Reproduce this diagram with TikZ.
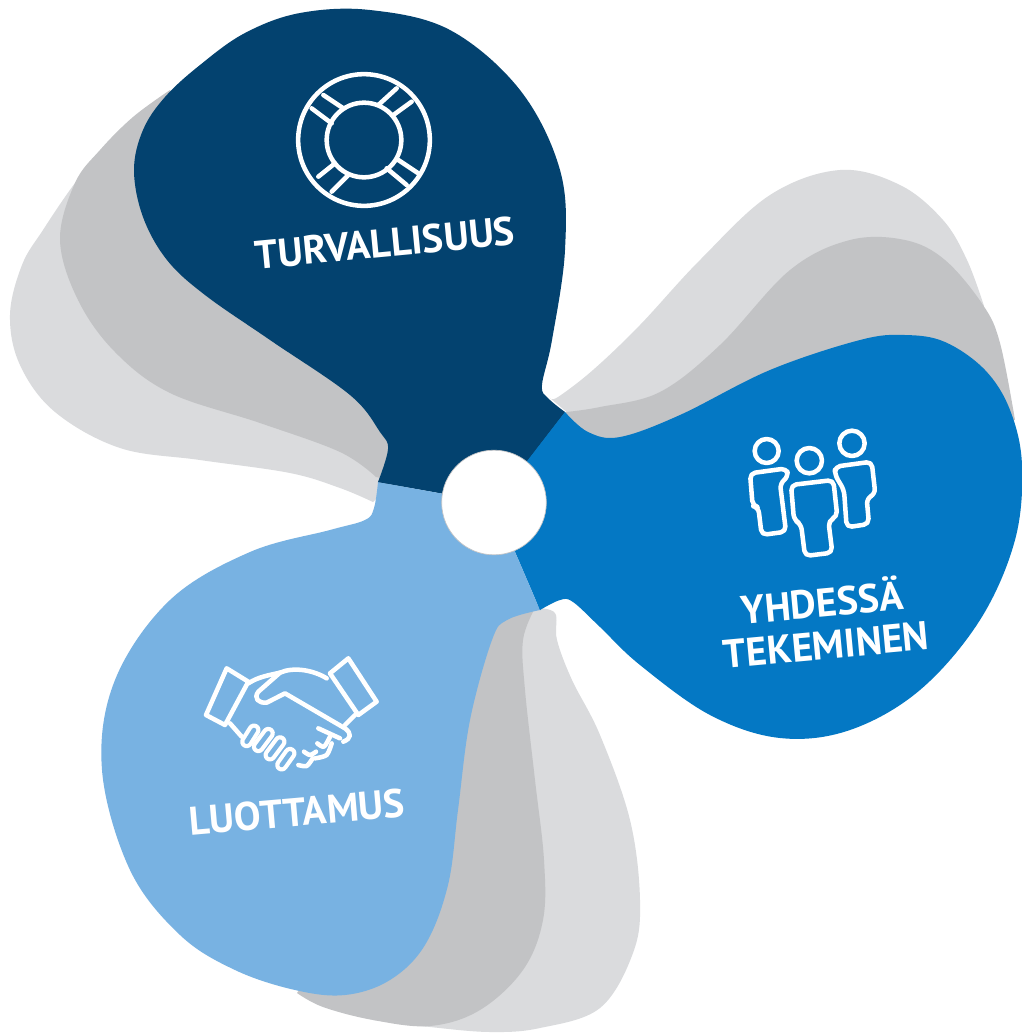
\documentclass[tikz,border=0pt]{standalone}
\usepackage{fontspec}
\setmainfont{PT Sans}
\definecolor{darkblade}{HTML}{03426F}
\definecolor{midblade}{HTML}{0478C4}
\definecolor{lightblade}{HTML}{78B2E2}
\definecolor{greyA}{HTML}{DADBDD}
\definecolor{greyB}{HTML}{C2C3C5}
\tikzset{
  iconline/.style={draw=white,line width=3.4pt,line join=round,line cap=round,fill=none},
  label/.style={text=white,font=\bfseries\fontsize{30pt}{31.5pt}\selectfont,inner sep=0pt},
  curve/.style={smooth,tension=0.6}
}
\begin{document}
\begin{tikzpicture}[x=0.75pt,y=-0.75pt]
\useasboundingbox[fill=white] (0,0) rectangle (1022,1033);
% grey shadows
\fill[greyA] plot[curve] coordinates {(373,502)(340,488)(290,473)(200,460)(120,448)(55,412)(20,365)(10,315)(22,265)(43,230)(75,183)(110,140)} -- (300,300) -- (390,450) -- (385,490) -- cycle;
\fill[greyB] plot[curve] coordinates {(376,477)(340,452)(260,423)(170,393)(115,352)(78,300)(60,240)(75,183)(100,150)(133,117)(170,90)} -- (300,300) -- (395,450) -- (390,480) -- cycle;
\fill[greyA] plot[curve] coordinates {(550,398)(558,397)(593,370)(640,325)(700,260)(770,195)(840,170)(900,185)(943,220)(967,260)(984,306)} -- (900,340) -- (600,440) -- cycle;
\fill[greyB] plot[curve] coordinates {(566,412)(600,407)(660,392)(720,345)(790,270)(850,240)(905,240)(945,260)(983,305)(1000,343)(1015,420)} -- (900,420) -- (620,450) -- (590,445) -- (560,420) -- cycle;
\fill[greyA] plot[curve] coordinates {(535,608)(555,613)(557,640)(572,680)(600,735)(630,820)(640,900)(633,953)(600,1008)(540,1028)(490,1032)(430,1027)(373,1020)} -- (400,850) -- (480,640) -- (510,600) -- cycle;
\fill[greyB] plot[curve] coordinates {(535,608)(523,640)(525,690)(535,780)(544,860)(543,920)(523,970)(480,1010)(430,1026)(373,1020)(323,1007)(297,993)} -- (400,850) -- (480,640) -- (510,600) -- cycle;
% blades
\fill[darkblade] plot[curve] coordinates {(565,412)(548,398)(542,385)(552,340)(565,250)(560,170)(520,90)(450,30)(370,10)(300,13)(245,33)(200,65)(165,97)(143,130)(134,170)(143,217)(167,260)(205,295)(270,340)(350,395)(380,432)(388,449)(378,482)} -- (494,503) -- cycle;
\fill[midblade] plot[curve] coordinates {(565,412)(588,432)(620,437)(680,415)(770,370)(860,340)(905,335)(945,342)(985,370)(1010,410)(1022,465)(1015,540)(980,620)(920,690)(850,730)(780,738)(710,715)(640,665)(600,627)(573,602)(560,600)(540,610)} -- (494,503) -- cycle;
\fill[lightblade] plot[curve] coordinates {(540,610)(507,620)(492,640)(470,720)(458,810)(448,885)(425,945)(390,980)(345,995)(295,990)(235,970)(180,935)(130,870)(102,770)(115,680)(170,600)(250,552)(330,530)(365,520)(374,508)(378,482)} -- (494,503) -- cycle;
\fill[darkblade] (378,482) -- (442,493) -- (494,503) -- (528,460) -- (565,412) -- (500,400) -- cycle;
\fill[midblade] (565,412) -- (528,460) -- (494,503) -- (518,553) -- (540,610) -- (600,500) -- cycle;
% hub
\node[circle,fill=white,draw=greyB,line width=0.5pt,minimum size=78.5pt,inner sep=0pt] (hub) at (494,502.5) {};
% lifebuoy
\begin{scope}[shift={(230,80)},x=0.25pt,y=-0.25pt,iconline]
  \draw (402,180) circle[radius=197.5*0.25pt];
  \draw (402,180) circle[radius=112*0.25pt];
  \draw (245,85)--(305,130) (280,45)--(340,85);
  \draw (445,75)--(500,25) (490,105)--(545,65);
  \draw (265,290)--(315,250) (305,335)--(355,285);
  \draw (470,265)--(530,315) (505,240)--(565,280);
\end{scope}
\node[label,rotate=5.5] (turva) at (385,243) {TURVALLISUUS};
% people
\begin{scope}[shift={(720,420)},x=0.25pt,y=-0.25pt,iconline]
  \draw (140,93) circle[radius=36*0.25pt];
  \draw (268,122) circle[radius=38*0.25pt];
  \draw (396,70) circle[radius=38*0.25pt];
  \draw[rounded corners=4pt] (90,160)--(200,145)--(205,170)--(180,190)--(198,335)--(125,345)--(115,262)--(98,258)--cycle;
  \draw[rounded corners=4pt] (213,195)--(340,180)--(352,290)--(325,302)--(337,398)--(255,408)--(243,312)--(222,300)--cycle;
  \draw[rounded corners=4pt] (345,140)--(455,125)--(466,222)--(440,235)--(447,312)--(380,322)--(372,210)--(345,165)--cycle;
\end{scope}
\node[label,rotate=5.3,align=center] (yhd) at (824,621) {YHDESSÄ\\TEKEMINEN};
% handshake
\begin{scope}[shift={(180,650)},x=0.25pt,y=-0.25pt,iconline]
  \draw (140,55)--(205,95)--(135,225)--(78,195)--cycle;
  \draw (450,70)--(505,25)--(590,155)--(535,195)--cycle;
  \draw (205,100) .. controls (235,80) and (270,75) .. (300,68);
  \draw (440,85) .. controls (400,60) and (340,50) .. (300,68) -- (235,125) .. controls (220,145) and (235,160) .. (260,158) -- (315,130) -- (495,235) .. controls (515,250) and (515,265) .. (490,275);
  \draw (525,195)--(495,225);
  \draw (415,235)--(480,265);
  \draw (150,220)--(185,260);
  \draw plot[smooth] coordinates {(355,345)(380,348)(398,325)};
  \draw plot[smooth] coordinates {(372,305)(390,315)(408,305)};
  \draw plot[smooth] coordinates {(412,280)(432,290)(450,260)};
  \draw plot[smooth] coordinates {(405,325)(440,315)(455,280)};
  \foreach \ax/\ay/\bx/\by in {200/275/222/240,235/290/265/250,270/315/300/275,305/345/330/310}
    \draw[line width=9.75pt] (\ax,\ay)--(\bx,\by);
  \foreach \ax/\ay/\bx/\by in {200/275/222/240,235/290/265/250,270/315/300/275,305/345/330/310}
    \draw[draw=lightblade,line width=3.4pt] (\ax,\ay)--(\bx,\by);
\end{scope}
\node[label,rotate=5] (luot) at (297,812) {LUOTTAMUS};
\end{tikzpicture}
\end{document}
